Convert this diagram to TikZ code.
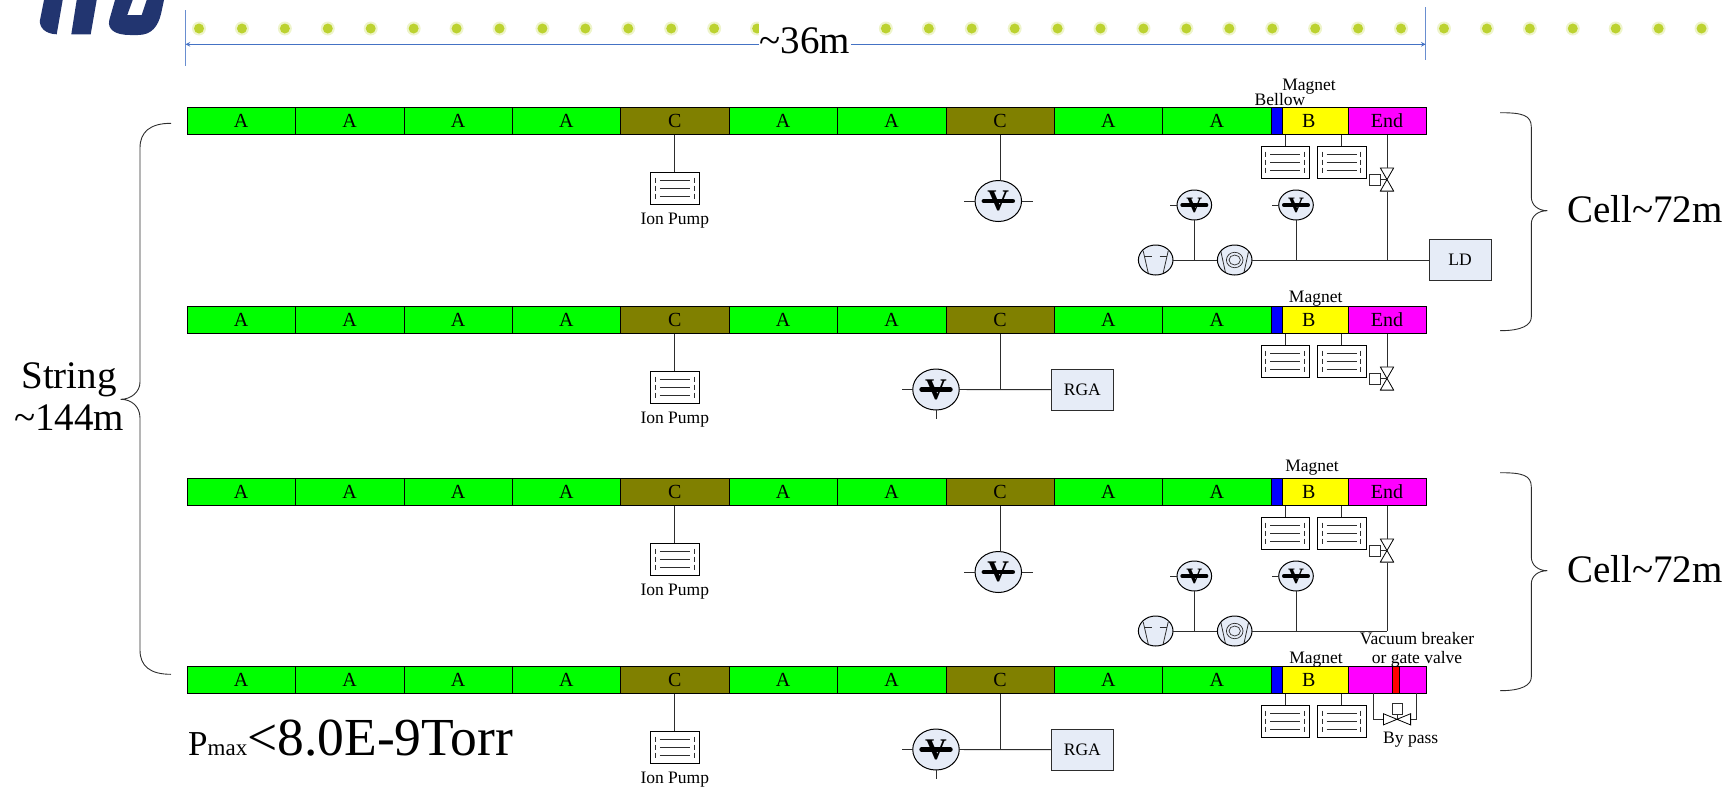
\documentclass[tikz,border=0pt]{standalone}
\usepackage{fontspec}
\setmainfont{Liberation Serif}
\definecolor{segGreen}{RGB}{0,255,0}
\definecolor{segOlive}{RGB}{128,128,0}
\definecolor{segBlue}{RGB}{0,0,255}
\definecolor{segYellow}{RGB}{255,255,0}
\definecolor{segMagenta}{RGB}{255,0,255}
\definecolor{segRed}{RGB}{255,0,0}
\definecolor{pipeGray}{RGB}{45,45,45}
\definecolor{unitFill}{RGB}{230,236,247}
\definecolor{spanBlue}{RGB}{68,114,196}
\definecolor{dotLime}{RGB}{188,210,48}
\definecolor{logoNavy}{RGB}{34,53,112}
\usetikzlibrary{shapes.geometric,positioning,arrows}

\begin{document}
\begin{tikzpicture}[
  x=1pt, y=-1pt,
  node distance=0pt,
  seg/.style={
    draw=black, inner sep=0pt, outer sep=0pt, minimum height=27.5pt,
    font=\fontsize{20}{20}\selectfont
  },
  segA/.style={seg, fill=segGreen, minimum width=108.4pt},
  segC/.style={seg, fill=segOlive, minimum width=108.4pt},
  segBellow/.style={seg, fill=segBlue, minimum width=11.3pt},
  segB/.style={seg, fill=segYellow, minimum width=65.7pt},
  segEnd/.style={seg, fill=segMagenta, minimum width=78pt},
  segBreak/.style={seg, fill=segRed, minimum width=7.7pt},
  pipe/.style={draw=pipeGray, line width=0.9pt},
  small/.style={font=\fontsize{17.5}{19}\selectfont, inner sep=0pt, align=center},
  big/.style={font=\fontsize{39}{41.7}\selectfont, inner sep=0pt, align=center},
  unit/.style={
    draw=pipeGray, fill=unitFill, inner sep=0pt, outer sep=0pt,
    minimum width=62pt, minimum height=41pt, font=\fontsize{17.5}{19}\selectfont
  },
  ionbox/.style={
    draw=black, fill=white, inner sep=0pt, outer sep=0pt,
    minimum width=48.5pt, minimum height=32pt,
    path picture={
      \begin{scope}[shift={(path picture bounding box.center)}]
        \draw[pipeGray, line width=0.9pt] (-15,-8) -- (15,-8);
        \draw[pipeGray, line width=0.9pt] (-15,0) -- (15,0);
        \draw[pipeGray, line width=0.9pt] (-15,8) -- (15,8);
        \draw[pipeGray, line width=0.9pt, dash pattern=on 5pt off 3pt] (-19.3,-10.5) -- (-19.3,11);
        \draw[pipeGray, line width=0.9pt, dash pattern=on 5pt off 3pt] (19.3,-10.5) -- (19.3,11);
      \end{scope}
    }
  },
  gaugebig/.style={
    ellipse, draw=black, line width=1pt, fill=unitFill, inner sep=0pt, outer sep=0pt,
    minimum width=46.5pt, minimum height=41pt,
    font=\fontsize{30}{30}\selectfont\bfseries,
    path picture={
      \draw[black, line width=4.6pt, line cap=round]
        ([xshift=-14.4pt]path picture bounding box.center) --
        ([xshift=14.4pt]path picture bounding box.center);
    }
  },
  gaugesmall/.style={
    ellipse, draw=black, line width=1pt, fill=unitFill, inner sep=0pt, outer sep=0pt,
    minimum width=34.6pt, minimum height=30pt,
    font=\fontsize{22}{22}\selectfont\bfseries,
    path picture={
      \draw[black, line width=3.6pt, line cap=round]
        ([xshift=-12.2pt]path picture bounding box.center) --
        ([xshift=12.2pt]path picture bounding box.center);
    }
  },
  roughpump/.style={
    ellipse, draw=black, line width=1pt, fill=unitFill, inner sep=0pt, outer sep=0pt,
    minimum width=34.6pt, minimum height=30pt,
    path picture={
      \begin{scope}[shift={(path picture bounding box.center)}]
        \draw[pipeGray, line width=0.8pt] (-12.5,-9) -- (-7,15);
        \draw[pipeGray, line width=0.8pt] (12.5,-9) -- (7,15);
        \draw[pipeGray, line width=0.8pt] (-11,-4) -- (-4,-4);
        \draw[pipeGray, line width=0.8pt] (4,-4) -- (11,-4);
      \end{scope}
    }
  },
  turbopump/.style={
    ellipse, draw=black, line width=1pt, fill=unitFill, inner sep=0pt, outer sep=0pt,
    minimum width=34.6pt, minimum height=30pt,
    path picture={
      \begin{scope}[shift={(path picture bounding box.center)}]
        \draw[pipeGray, line width=0.8pt] (-14,-9.3) -- (-8.7,15);
        \draw[pipeGray, line width=0.8pt] (14,-9.3) -- (8.7,15);
        \draw[pipeGray, line width=0.7pt] (0,0) ellipse (8.3pt and 7.7pt);
        \draw[pipeGray, line width=0.7pt] (0,0) ellipse (5.7pt and 5pt);
      \end{scope}
    }
  },
  valveV/.style={
    inner sep=0pt, outer sep=0pt, minimum width=14.4pt, minimum height=24pt,
    path picture={
      \begin{scope}[shift={(path picture bounding box.center)}]
        \draw[black, line width=0.8pt] (-6.7,-11.6) -- (6.7,-11.6) -- (-6.7,11.6) -- (6.7,11.6) -- cycle;
      \end{scope}
    }
  },
  valveH/.style={
    inner sep=0pt, outer sep=0pt, minimum width=28pt, minimum height=12pt,
    path picture={
      \begin{scope}[shift={(path picture bounding box.center)}]
        \draw[black, line width=0.8pt] (-13.6,-5.6) -- (-13.6,5.6) -- (13.6,-5.6) -- (13.6,5.6) -- cycle;
      \end{scope}
    }
  },
  actuator/.style={draw=pipeGray, fill=white, inner sep=0pt, outer sep=0pt, minimum size=10.5pt},
  span/.style={<->, >=stealth, draw=spanBlue, line width=1.1pt},
  tickbar/.style={draw=spanBlue!80, line width=1pt},
  brace/.style={draw=pipeGray, line width=0.9pt}
]
  \useasboundingbox (0,0) rectangle (1733,788);

  \fill[logoNavy] (44,0) -- (40,20) .. controls (39,28) and (46,34) .. (56.7,34.3) -- (62.7,0) -- cycle;
  \fill[logoNavy] (76.7,0) -- (71.3,34.3) -- (90.7,34.3) -- (96.7,0) -- cycle;
  \fill[logoNavy] (115,0) -- (109.3,20) .. controls (107,30) and (116,35) .. (130,35)
    -- (138,35) .. controls (152,35) and (158,26) .. (161,14) -- (164,0) -- (146.7,0)
    -- (141.7,15) -- (127.3,15) -- (132.7,0) -- cycle;

  \foreach \n in {0,...,35} {
    \fill[dotLime!25] (199+\n*42.93,28.5) circle (7pt);
    \fill[dotLime] (199+\n*42.93,28.5) circle (5pt);
  }

  \coordinate (spanL) at (185.5,44.3);
  \coordinate (spanR) at (1425.7,44.3);
  \coordinate (spanLtop) at (185.5,10);
  \coordinate (spanLbot) at (185.5,66);
  \coordinate (spanRtop) at (1425.7,7);
  \coordinate (spanRbot) at (1425.7,60);
  \draw[tickbar] (spanLtop) -- (spanLbot);
  \draw[tickbar] (spanRtop) -- (spanRbot);
  \draw[span] (spanL) -- (spanR);
  \node[big, fill=white, anchor=base, minimum width=92pt, text height=33pt] (spanlabel) at (805,53.3) {\textasciitilde36m};

  \foreach \rw/\ytop/\endtxt in {r1/107/End, r2/306/End, r3/478/End, r4/666/{}} {
    \begin{scope}[shift={(0,\ytop)}]
      \node[segA, anchor=west] (\rw-a1) at (187,13.75) {A};
      \node[segA, right=of \rw-a1] (\rw-a2) {A};
      \node[segA, right=of \rw-a2] (\rw-a3) {A};
      \node[segA, right=of \rw-a3] (\rw-a4) {A};
      \node[segC, right=of \rw-a4] (\rw-c1) {C};
      \node[segA, right=of \rw-c1] (\rw-a5) {A};
      \node[segA, right=of \rw-a5] (\rw-a6) {A};
      \node[segC, right=of \rw-a6] (\rw-c2) {C};
      \node[segA, right=of \rw-c2] (\rw-a7) {A};
      \node[segA, right=of \rw-a7] (\rw-a8) {A};
      \node[segBellow, right=of \rw-a8] (\rw-bel) {};
      \node[segB, right=of \rw-bel] (\rw-b) {B\kern12.6pt\relax};
      \node[segEnd, right=of \rw-b] (\rw-end) {\endtxt};
      \node[ionbox, below=37.5pt of \rw-c1] (\rw-ip) {};
      \node[small, below=9pt of \rw-ip] (\rw-iplabel) {Ion Pump};
      \node[ionbox] (\rw-ipa) at (1285.2,55) {};
      \node[ionbox] (\rw-ipb) at (1341.5,55) {};
      \draw[pipe] (\rw-c1) -- (\rw-ip);
      \draw[pipe] (\rw-ipa.north |- \rw-b.south) -- (\rw-ipa);
      \draw[pipe] (\rw-ipb.north |- \rw-b.south) -- (\rw-ipb);
    \end{scope}
  }

  \foreach \rw/\ytop in {r1/107, r3/478} {
    \begin{scope}[shift={(0,\ytop)}]
      \node[gaugebig] (\rw-g) at (998.3,94) {\raisebox{-2pt}{V}};
      \draw[pipe] (\rw-c2) -- (\rw-g.north -| \rw-c2);
      \draw[pipe] (\rw-g.west) -- ++(-11,0);
      \draw[pipe] (\rw-g.east) -- ++(11,0);
      \node[valveV, below=33pt of \rw-end] (\rw-v) {};
      \node[actuator, left=of \rw-v] (\rw-act) {};
      \draw[pipe] (\rw-end) -- (\rw-v);
      \draw[pipe] (\rw-act) -- (\rw-v.center);
      \node[roughpump] (\rw-rp) at (1155.7,153) {};
      \node[turbopump] (\rw-tp) at (1234.7,153) {};
      \node[gaugesmall] (\rw-g1) at (1194.3,98) {\raisebox{-1.5pt}{V}};
      \node[gaugesmall] (\rw-g2) at (1296,98) {\raisebox{-1.5pt}{V}};
      \coordinate (\rw-jct) at (\rw-v.south |- \rw-tp.east);
      \draw[pipe] (\rw-rp) -- (\rw-tp);
      \draw[pipe] (\rw-tp) -- (\rw-jct);
      \draw[pipe] (\rw-v) -- (\rw-jct);
      \draw[pipe] (\rw-g1) -- (\rw-g1.south |- \rw-rp.east);
      \draw[pipe] (\rw-g2) -- (\rw-g2.south |- \rw-tp.east);
      \draw[pipe] (\rw-g1.west) -- ++(-7,0);
      \draw[pipe] (\rw-g2.west) -- ++(-7,0);
    \end{scope}
  }

  \foreach \rw/\ytop in {r2/306, r4/666} {
    \begin{scope}[shift={(0,\ytop)}]
      \node[gaugebig] (\rw-g) at (936,83.5) {\raisebox{-2pt}{V}};
      \node[unit] (\rw-rga) at (1082.3,83.7) {RGA};
      \draw[pipe] (\rw-g) -- (\rw-rga);
      \draw[pipe] (\rw-c2) -- (\rw-c2.south |- \rw-rga.west);
      \draw[pipe] (\rw-g.west) -- ++(-11,0);
      \draw[pipe] (\rw-g.south) -- ++(0,9);
    \end{scope}
  }

  \node[unit] (ld) at (1460,260) {LD};
  \draw[pipe] (r1-jct) -- (ld);

  \node[valveV, below=33pt of r2-end] (r2-v) {};
  \node[actuator, left=of r2-v] (r2-act) {};
  \draw[pipe] (r2-end) -- (r2-v);
  \draw[pipe] (r2-act) -- (r2-v.center);

  \node[segBreak] (r4-brk) at (1395.8,679.75) {};
  \node[valveH] (r4-v) at (1397,719.3) {};
  \node[actuator] (r4-act) at (1397,708.8) {};
  \coordinate (r4-tapL) at (1373.3,692.7);
  \coordinate (r4-tapR) at (1416.7,692.7);
  \draw[pipe] (r4-tapL) |- (r4-v.west);
  \draw[pipe] (r4-tapR) |- (r4-v.east);
  \draw[pipe] (r4-act) -- (r4-v.center);

  \node[small] (magnet1) at (1309,87) {Magnet};
  \node[small] (bellow1) at (1280,100) {Bellow};
  \node[small] (magnet2) at (1315.7,299) {Magnet};
  \node[small] (magnet3) at (1312,468) {Magnet};
  \node[small] (magnet4) at (1316,660) {Magnet};
  \node[small] (breaker) at (1417,650) {Vacuum breaker\\or gate valve};
  \node[small] (bypass) at (1410.7,740) {By pass};

  \draw[brace] (171,123.3) .. controls (150,123.3) and (140,132) .. (140,148)
    -- (140,382) .. controls (140,392) and (131,399.3) .. (120.7,399.3)
    .. controls (131,399.3) and (140,406) .. (140,418)
    -- (140,650) .. controls (140,666) and (150,674.3) .. (171,674.3);
  \node[big] (stringlabel) at (69,396.5) {String\\\textasciitilde144m};

  \foreach \cl/\dy in {c1/0, c2/360} {
    \begin{scope}[shift={(0,\dy)}]
      \draw[brace] (1500,112.7) .. controls (1522,112.7) and (1531.3,115) .. (1531.3,127)
        -- (1531.3,197) .. controls (1531.3,205) and (1538,210.7) .. (1547.3,210.7)
        .. controls (1538,210.7) and (1531.3,216) .. (1531.3,224)
        -- (1531.3,317) .. controls (1531.3,325) and (1522,330.7) .. (1500,330.7);
      \node[big, anchor=base] (\cl-label) at (1645,222) {Cell\textasciitilde72m};
    \end{scope}
  }

  \node[inner sep=0pt, anchor=base west] (pmax) at (188,755)
    {\fontsize{35}{35}\selectfont P\fontsize{23}{23}\selectfont max\fontsize{53.5}{53.5}\selectfont <8.0E-9Torr};
\end{tikzpicture}
\end{document}
